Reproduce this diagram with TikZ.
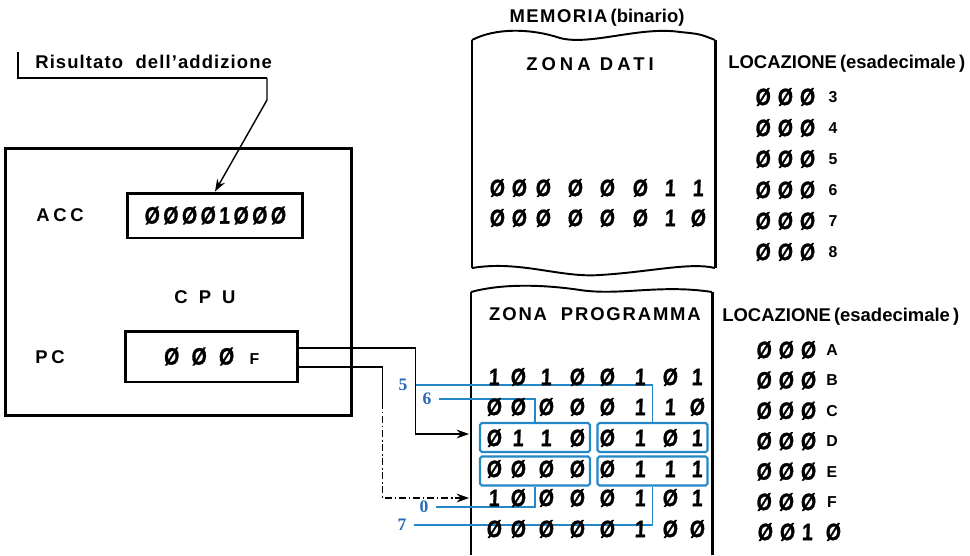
\documentclass[tikz,border=0pt]{standalone}
\usepackage{fontspec}
\setmainfont{Liberation Sans}
\newfontfamily\blueserif{Liberation Serif}
\newfontfamily\bitfont[FakeStretch=0.82,FakeSlant=0.05,FakeBold=1.2]{Liberation Sans Bold}
\usetikzlibrary{arrows.meta,positioning,calc}
\definecolor{busblue}{RGB}{35,135,200}
\definecolor{numblue}{RGB}{40,105,185}
\newcommand{\wide}[2][30]{{\addfontfeature{LetterSpace=#1}#2}}
\begin{document}
\begin{tikzpicture}[x=0.02cm, y=-0.02cm,
    lbl/.style={font=\bfseries\fontsize{10.5}{12}\selectfont, inner sep=0pt},
    bit/.style={font=\bitfont\fontsize{13.5}{15}\selectfont, inner sep=0pt},
    hexd/.style={font=\bfseries\fontsize{9}{11}\selectfont, inner sep=0pt},
    reg/.style={draw, line width=1.7pt, inner sep=0pt},
    frame/.style={line width=1.7pt},
    wire/.style={line width=0.8pt, -{Stealth[length=7pt,width=5pt]}},
    bus/.style={draw=busblue, line width=0.8pt},
    grp/.style={draw=busblue, line width=1.2pt, rounded corners=1pt,
                minimum width=2.2cm, minimum height=0.58cm, inner sep=0pt},
    num/.style={font=\blueserif\bfseries\fontsize{10}{12}\selectfont,
                text=numblue, inner sep=0pt}
  ]
  \useasboundingbox (0,0) rectangle (970,555);

  % CPU
  \node[reg, minimum width=6.94cm, minimum height=5.36cm] (cpu) at (178.5,282) {};
  \node[lbl] at (205,297) {\wide[60]{CPU}};
  \node[lbl] (acclbl) at (60,215) {\wide[20]{ACC}};
  \node[reg, minimum width=3.5cm, minimum height=0.9cm, font=\bitfont\fontsize{13.5}{15}\selectfont]
       (acc) at (215,215.5) {Ø\kern2pt Ø\kern2pt Ø\kern2pt Ø\kern2pt 1\kern2pt Ø\kern2pt Ø\kern2pt Ø};
  \node[lbl] (pclbl) at (50,357) {\wide[20]{PC}};
  \node[reg, minimum width=3.46cm, minimum height=1.02cm, font=\bitfont\fontsize{13.5}{15}\selectfont]
       (pc) at (211.5,356.5) {Ø\hspace{7pt}Ø\hspace{7pt}Ø\hspace{9pt}{\normalfont\bfseries\fontsize{9}{11}\selectfont F}};

  % result label
  \node[lbl, anchor=west] (ris) at (35,62) {\wide[6]{Risultato\ \ dell'addizione}};
  \coordinate (brk) at (267,78);
  \draw[line width=0.8pt] (18,52) -- (18,78) -- (brk);
  \draw[wire] (brk) -- ++(0,22) -- (acc.north);

  % memory frame
  \node[lbl] (mem) at (597,18) {\wide[8]{MEMORIA}\,(binario)};
  \draw[frame] (472,40) -- (472,268);
  \draw[frame] (715,40) -- (715,268);
  \draw[line width=1.1pt] (472,40) .. controls (495,28) and (530,28) .. (560,38)
       .. controls (590,46) and (640,26) .. (680,32) .. controls (700,34) .. (715,40);
  \draw[line width=1.1pt] (472,268) .. controls (520,260) and (560,278) .. (600,275)
       .. controls (650,272) and (690,262) .. (715,268);
  \draw[frame] (471,292) -- (471,555);
  \draw[frame] (712,292) -- (712,555);
  \draw[line width=1.1pt] (471,292) .. controls (500,284) and (540,284) .. (580,290)
       .. controls (620,296) and (660,284) .. (712,292);
  \node[lbl] at (590,64) {\wide[22]{ZONA\ DATI}};
  \node[lbl] at (595,314) {\wide[10]{ZONA\ \ PROGRAMMA}};

  % program groups
  \node[grp] (gDL) at (535,437.5) {};
  \node[grp] (gDR) at (652.5,437.5) {};
  \node[grp] (gEL) at (535,471) {};
  \node[grp] (gER) at (652.5,471) {};

  % blue bit labels
  \node[num] (n5) at (403,385) {5};
  \node[num] (n6) at (427,399) {6};
  \node[num] (n0) at (424,507) {0};
  \node[num] (n7) at (402,525) {7};
  \draw[bus] ([xshift=4pt]n5.east) -| (gDR.north);
  \draw[bus] ([xshift=4pt]n6.east) -| (gDL.north);
  \draw[bus] ([xshift=4pt]n0.east) -| (gEL.south);
  \draw[bus] ([xshift=4pt]n7.east) -| (gER.south);

  % bits, data zone
  \foreach \r/\y/\bits in {1/188/{Ø,Ø,Ø,Ø,Ø,Ø,1,1}, 2/218/{Ø,Ø,Ø,Ø,Ø,Ø,1,Ø}}
    \foreach \b [count=\c] in \bits
      \node[bit] (d-\r-\c) at ({\c==1 ? 497 : (\c==2 ? 519 : (\c==3 ? 543 : (\c==4 ? 575 : (\c==5 ? 607 : (\c==6 ? 640 : (\c==7 ? 670 : 698))))))},\y) {\b};

  % bits, program zone
  \foreach \r/\y/\bits in {1/377/{1,Ø,1,Ø,Ø,1,Ø,1}, 2/407/{Ø,Ø,Ø,Ø,Ø,1,1,Ø},
                            3/438/{Ø,1,1,Ø,Ø,1,Ø,1}, 4/469/{Ø,Ø,Ø,Ø,Ø,1,1,1},
                            5/498/{1,Ø,Ø,Ø,Ø,1,Ø,1}, 6/529/{Ø,Ø,Ø,Ø,Ø,1,Ø,Ø}}
    \foreach \b [count=\c] in \bits
      \node[bit] (p-\r-\c) at ({\c==1 ? 494 : (\c==2 ? 518 : (\c==3 ? 546 : (\c==4 ? 577 : (\c==5 ? 607 : (\c==6 ? 640 : (\c==7 ? 670 : 697))))))},\y) {\b};

  % locations
  \node[lbl, anchor=west] (locA) at (728,64) {LOCAZIONE\,(esadecimale\,)};
  \foreach \h [count=\i] in {3,...,8} {
    \node[bit] (la-\i) at (785,{97+(\i-1)*31}) {Ø\kern4pt Ø\kern4pt Ø};
    \node[hexd] at (833,{97+(\i-1)*31}) {\h};
  }
  \node[lbl, anchor=west] (locB) at (722,317) {LOCAZIONE\,(esadecimale\,)};
  \foreach \h [count=\i] in {A,B,C,D,E,F} {
    \node[bit] (lb-\i) at (786,{350+(\i-1)*30.4}) {Ø\kern4pt Ø\kern4pt Ø};
    \node[hexd] at (832,{350+(\i-1)*30.4}) {\h};
  }
  \node[bit] (lb-7) at (785,532) {Ø\kern4pt Ø\kern4pt 1};
  \node[bit] at (833,532) {Ø};

  % PC to program memory
  \coordinate (pgmD) at (469,434);
  \coordinate (pgmF) at (469,498);
  \draw[wire] ($(pc.east)+(0,-8.5)$) -- ++(116,0) |- (pgmD);
  \draw[line width=0.8pt] ($(pc.east)+(0,10.5)$) -- ++(83,0) -- ++(0,35) coordinate (dsh);
  \draw[wire, dash pattern=on 4pt off 1.5pt on 1pt off 1.5pt] (dsh) |- (pgmF);
\end{tikzpicture}
\end{document}
